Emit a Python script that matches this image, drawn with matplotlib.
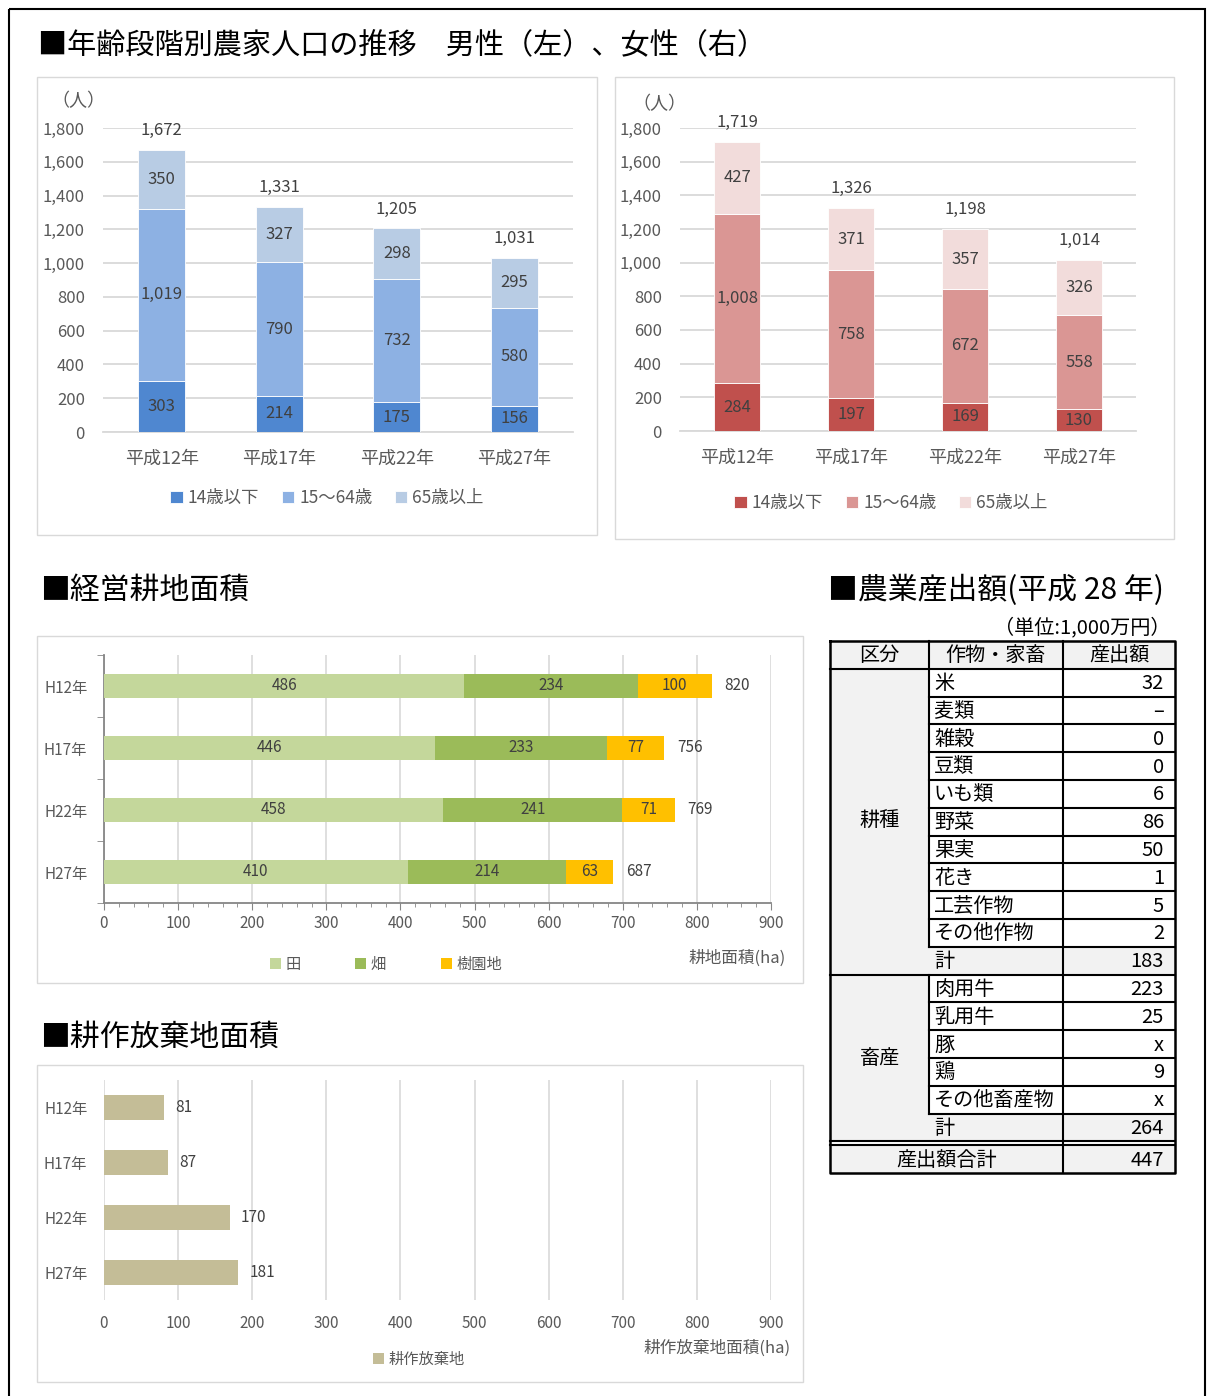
import numpy as np
import matplotlib
matplotlib.use('Agg')
import matplotlib.pyplot as plt
from matplotlib.patches import Rectangle
from matplotlib.ticker import FuncFormatter, MultipleLocator

plt.rcParams['font.family'] = ['Noto Sans CJK JP', 'DejaVu Sans']

W, H = 1208, 1396

'''------DATA------'''
years_jp = ['平成12年', '平成17年', '平成22年', '平成27年']
age_groups = ['14歳以下', '15～64歳', '65歳以上']
male_14 = [303, 214, 175, 156]
male_15_64 = [1019, 790, 732, 580]
male_65 = [350, 327, 298, 295]
male_total = [1672, 1331, 1205, 1031]
female_14 = [284, 197, 169, 130]
female_15_64 = [1008, 758, 672, 558]
female_65 = [427, 371, 357, 326]
female_total = [1719, 1326, 1198, 1014]

years_h = ['H12年', 'H17年', 'H22年', 'H27年']
land_types = ['田', '畑', '樹園地']
rice = [486, 446, 458, 410]
field = [234, 233, 241, 214]
orchard = [100, 77, 71, 63]
land_total = [820, 756, 769, 687]

abandoned = [81, 87, 170, 181]

crop_items = ['米', '麦類', '雑穀', '豆類', 'いも類', '野菜', '果実', '花き', '工芸作物', 'その他作物']
crop_values = ['32', '–', '0', '0', '6', '86', '50', '1', '5', '2']
crop_sum = '183'
livestock_items = ['肉用牛', '乳用牛', '豚', '鶏', 'その他畜産物']
livestock_values = ['223', '25', 'x', '9', 'x']
livestock_sum = '264'
output_total = '447'
'''------DATA------'''

TXT = '#404040'
TICK = '#595959'
GRID = '#d9d9d9'

fig = plt.figure(figsize=(W / 100, H / 100), dpi=100)
page = fig.add_axes([0, 0, 1, 1])
page.set_xlim(0, W)
page.set_ylim(H, 0)
page.axis('off')


def px_axes(x0, y0, x1, y1):
    return fig.add_axes([x0 / W, 1 - y1 / H, (x1 - x0) / W, (y1 - y0) / H])


# page frame and chart boxes
page.add_patch(Rectangle((9, 9), 1196, 1400, fill=False, lw=1.5, ec='black'))
for (x0, y0, x1, y1) in [(37, 77, 597, 535), (615, 77, 1174, 539),
                         (37, 636, 803, 983), (37, 1065, 803, 1382)]:
    page.add_patch(Rectangle((x0, y0), x1 - x0, y1 - y0, fill=False, lw=1, ec=GRID))

# section titles
TS = 21.5
page.text(38, 46, '■年齢段階別農家人口の推移　男性（左）、女性（右）', fontsize=21, va='center')
page.text(40, 590, '■経営耕地面積', fontsize=TS, va='center')
page.text(40, 1037, '■耕作放棄地面積', fontsize=TS, va='center')
page.text(828, 590, '■農業産出額(平成 28 年)', fontsize=TS, va='center')
page.text(1170, 628, '（単位:1,000万円）', fontsize=14.5, va='center', ha='right')


'''------POPULATION CHARTS------'''
def pop_chart(rect, segs, totals, colors, unit_xy, legend_xy):
    ax = px_axes(*rect)
    x = np.arange(len(years_jp))
    bottom = np.zeros(len(x))
    for vals, c, lab in zip(segs, colors, age_groups):
        bars = ax.bar(x, vals, 0.4, bottom=bottom, color=c, label=lab,
                      edgecolor='white', linewidth=0.6, zorder=3)
        ax.bar_label(bars, labels=[f'{v:,}' for v in vals], label_type='center',
                     fontsize=12, color=TXT)
        bottom += np.array(vals)
    for xi, t in zip(x, totals):
        ax.annotate(f'{t:,}', (xi, t), xytext=(0, 14), textcoords='offset points',
                    ha='center', va='center', fontsize=12, color=TXT)
    ax.set_xlim(-0.5, 3.5)
    ax.set_ylim(0, 1800)
    ax.set_yticks(range(0, 1801, 200))
    ax.yaxis.set_major_formatter(FuncFormatter(lambda v, p: f'{int(v):,}'))
    ax.set_xticks(x, years_jp)
    ax.yaxis.grid(True, color=GRID, lw=1.3)
    ax.set_axisbelow(True)
    for s in ['top', 'right', 'left']:
        ax.spines[s].set_visible(False)
    ax.spines['bottom'].set_color(GRID)
    ax.spines['bottom'].set_linewidth(1.3)
    ax.tick_params(axis='y', length=0, pad=13, labelsize=12, labelcolor=TICK)
    ax.tick_params(axis='x', length=0, pad=13, labelsize=13, labelcolor=TICK)
    page.text(unit_xy[0], unit_xy[1], '（人）', ha='center', va='center', fontsize=13, color=TICK)
    ax.legend(loc='center', bbox_to_anchor=(legend_xy[0] / W, 1 - legend_xy[1] / H),
              bbox_transform=fig.transFigure, ncol=3, frameon=False,
              handlelength=0.7, handleheight=0.7, handletextpad=0.3,
              columnspacing=1.3, fontsize=12.5, labelcolor=TICK)
    return ax


pop_chart((103, 128, 573, 432), [male_14, male_15_64, male_65], male_total,
          ['#4f87d0', '#8db1e3', '#b8cce4'], (78, 101), (327, 498))
pop_chart((680, 128, 1136, 431), [female_14, female_15_64, female_65], female_total,
          ['#c0504d', '#da9694', '#f2dcdb'], (659, 104), (891, 503))


'''------CULTIVATED LAND------'''
axc = px_axes(104, 655, 771, 903)
y = np.arange(len(years_h))
left = np.zeros(len(y))
for vals, c, lab in zip([rice, field, orchard], ['#c4d79b', '#9bbb59', '#ffc000'], land_types):
    bars = axc.barh(y, vals, 0.39, left=left, color=c, label=lab, zorder=3)
    axc.bar_label(bars, label_type='center', fontsize=11, color=TXT)
    left += np.array(vals)
for yi, t in zip(y, land_total):
    axc.annotate(str(t), (left[yi], yi), xytext=(9, 0), textcoords='offset points',
                 ha='left', va='center', fontsize=11, color=TXT)
axc.set_xlim(0, 900)
axc.set_ylim(3.5, -0.5)
axc.set_xticks(range(0, 901, 100))
axc.xaxis.set_minor_locator(MultipleLocator(20))
axc.set_yticks(y, years_h)
axc.set_yticks([-0.5, 0.5, 1.5, 2.5, 3.5], minor=True)
axc.xaxis.grid(True, color=GRID, lw=1.2)
axc.set_axisbelow(True)
for s in ['top', 'right']:
    axc.spines[s].set_visible(False)
for s in ['left', 'bottom']:
    axc.spines[s].set_color('#868686')
    axc.spines[s].set_linewidth(1.3)
axc.tick_params(axis='x', which='major', length=5, color='#868686', pad=4, labelsize=11, labelcolor=TICK)
axc.tick_params(axis='x', which='minor', length=3, color='#868686')
axc.tick_params(axis='y', which='major', length=0, pad=12, labelsize=11, labelcolor=TICK)
axc.tick_params(axis='y', which='minor', length=5, color='#868686')
axc.legend(loc='center', bbox_to_anchor=(386 / W, 1 - 964 / H), bbox_transform=fig.transFigure,
           ncol=3, frameon=False, handlelength=0.7, handleheight=0.7, handletextpad=0.3,
           columnspacing=3.6, fontsize=11, labelcolor=TICK)
page.text(786, 958, '耕地面積(ha)', ha='right', va='center', fontsize=12, color=TICK)


'''------ABANDONED LAND------'''
axa = px_axes(104, 1080, 771, 1300)
bars = axa.barh(y, abandoned, 0.44, color='#c4bd97', label='耕作放棄地', zorder=3)
axa.bar_label(bars, padding=8, fontsize=11, color=TXT)
axa.set_xlim(0, 900)
axa.set_ylim(3.5, -0.5)
axa.set_xticks(range(0, 901, 100))
axa.set_yticks(y, years_h)
axa.xaxis.grid(True, color=GRID, lw=1.2)
axa.set_axisbelow(True)
for s in axa.spines.values():
    s.set_visible(False)
axa.tick_params(axis='x', length=0, pad=11, labelsize=11, labelcolor=TICK)
axa.tick_params(axis='y', length=0, pad=12, labelsize=11, labelcolor=TICK)
axa.legend(loc='center', bbox_to_anchor=(419 / W, 1 - 1359 / H), bbox_transform=fig.transFigure,
           frameon=False, handlelength=0.7, handleheight=0.7, handletextpad=0.3,
           fontsize=11, labelcolor=TICK)
page.text(791, 1348, '耕作放棄地面積(ha)', ha='right', va='center', fontsize=12, color=TICK)


'''------OUTPUT TABLE------'''
cx = [830, 929, 1063, 1175]
top = 641
rh = 27.8
SHADE = '#f2f2f2'
FS = 14.5
items = crop_items + ['計'] + livestock_items + ['計']
values = crop_values + [crop_sum] + livestock_values + [livestock_sum]
n = len(items)
sum_rows = [len(crop_items), n - 1]


def row_y(i):
    return top + rh * (i + 1)


total_y = row_y(n) + 4
bottom_y = total_y + rh

# shading
page.add_patch(Rectangle((cx[0], top), cx[3] - cx[0], rh, color=SHADE, lw=0))
page.add_patch(Rectangle((cx[0], row_y(0)), cx[1] - cx[0], rh * n, color=SHADE, lw=0))
for r in sum_rows:
    page.add_patch(Rectangle((cx[1], row_y(r)), cx[3] - cx[1], rh, color=SHADE, lw=0))
page.add_patch(Rectangle((cx[0], total_y), cx[3] - cx[0], rh, color=SHADE, lw=0))

# lines
LW = 1.5
page.plot([cx[0], cx[3], cx[3], cx[0], cx[0]], [top, top, bottom_y, bottom_y, top], color='black', lw=1.8)
page.plot([cx[0], cx[3]], [row_y(0), row_y(0)], color='black', lw=LW)
page.plot([cx[2], cx[2]], [top, bottom_y], color='black', lw=LW)
page.plot([cx[1], cx[1]], [top, row_y(sum_rows[0])], color='black', lw=LW)
page.plot([cx[1], cx[1]], [row_y(sum_rows[0] + 1), row_y(sum_rows[1])], color='black', lw=LW)
for i in range(1, n):
    x_start = cx[0] if i == sum_rows[0] + 1 else cx[1]
    page.plot([x_start, cx[3]], [row_y(i), row_y(i)], color='black', lw=LW)
page.plot([cx[0], cx[3]], [row_y(n), row_y(n)], color='black', lw=LW)
page.plot([cx[0], cx[3]], [total_y, total_y], color='black', lw=LW)

# header
for j, h in enumerate(['区分', '作物・家畜', '産出額']):
    page.text((cx[j] + cx[j + 1]) / 2, top + rh / 2 + 1, h, ha='center', va='center', fontsize=FS)

# body
for i, (it, v) in enumerate(zip(items, values)):
    yc = row_y(i) + rh / 2 + 1
    page.text(cx[1] + 5, yc, it, ha='left', va='center', fontsize=FS)
    page.text(cx[3] - 11, yc, v, ha='right', va='center', fontsize=FS)

page.text((cx[0] + cx[1]) / 2, (row_y(0) + row_y(sum_rows[0] + 1)) / 2, '耕種',
          ha='center', va='center', fontsize=FS)
page.text((cx[0] + cx[1]) / 2, (row_y(sum_rows[0] + 1) + row_y(n)) / 2, '畜産',
          ha='center', va='center', fontsize=FS)
page.text((cx[0] + cx[2]) / 2, total_y + rh / 2 + 1, '産出額合計', ha='center', va='center', fontsize=FS)
page.text(cx[3] - 11, total_y + rh / 2 + 1, output_total, ha='right', va='center', fontsize=FS)

fig.savefig('out.png', dpi=100)
